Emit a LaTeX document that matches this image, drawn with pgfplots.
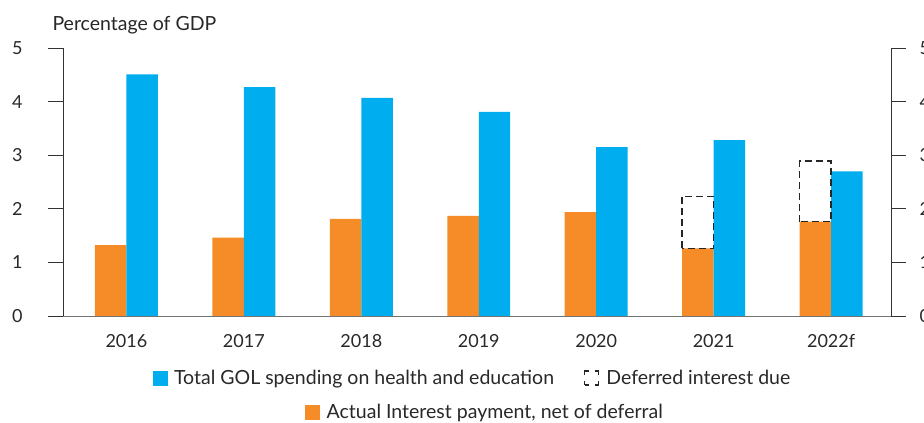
\documentclass[border=0pt]{standalone}
\usepackage{fontspec}
\setmainfont{Lato}
\usepackage{pgfplots}
\pgfplotsset{compat=1.18}
\definecolor{gblue}{RGB}{0,174,239}
\definecolor{gorange}{RGB}{245,140,40}
\definecolor{txt}{RGB}{40,40,40}
\begin{document}
\begin{tikzpicture}
\useasboundingbox (0,0) rectangle (924pt,423pt);
\pgfplotsset{
  base/.style={
    at={(63pt,107pt)}, anchor=south west,
    scale only axis, width=828pt, height=268pt,
    xmin=-0.54, xmax=6.51, ymin=0, ymax=5,
    font=\fontsize{18}{21}\selectfont,
    /pgf/number format/assume math mode=true,
    ticklabel style={text=txt},
    tick align=outside, major tick length=15pt,
    y tick style={black!80, line width=0.8pt},
    axis line style={black!80, line width=0.8pt},
    ytick={0,1,2,3,4,5},
  },
  legstyle/.style={draw=none, fill=none, text=txt, anchor=center,
    font=\fontsize{19.5}{23}\selectfont,
    /tikz/every odd column/.append style={column sep=5pt}},
}
\begin{axis}[base,
  axis x line*=bottom, axis y line*=left,
  xtick={0,1,2,3,4,5,6},
  xticklabels={2016,2017,2018,2019,2020,2021,2022f},
  x tick style={draw=none},
  x axis line style={black!55},
  xticklabel style={yshift=0pt},
  yticklabel style={xshift=-22pt},
  legend style={legstyle, at={(0.4946,-0.231)},
    legend columns=2,
    /tikz/every even column/.append style={column sep=28pt}},
  legend cell align=left,
]
\addplot[ybar, bar width=0.268, bar shift=-0.134, fill=gorange, draw=none, forget plot]
  coordinates {(0,1.32) (1,1.46) (2,1.81) (3,1.87) (4,1.94) (5,1.26) (6,1.76)};
\addplot[ybar, bar width=0.268, bar shift=0.134, fill=gblue, draw=none, forget plot]
  coordinates {(0,4.51) (1,4.27) (2,4.07) (3,3.81) (4,3.15) (5,3.28) (6,2.70)};
\addplot[black!85, line width=1.4pt, dash pattern=on 7pt off 4pt, forget plot]
  coordinates {(4.732,1.26) (4.732,2.23) (5.0,2.23) (5.0,1.26) (4.732,1.26)};
\addplot[black!85, line width=1.4pt, dash pattern=on 7pt off 4pt, forget plot]
  coordinates {(5.732,1.76) (5.732,2.89) (6.0,2.89) (6.0,1.76) (5.732,1.76)};
\addlegendimage{legend image code/.code={\fill[gblue] (0pt,-7pt) rectangle (14pt,7pt);}}
\addlegendentry{Total GOL spending on health and education}
\addlegendimage{legend image code/.code={\draw[black!85, line width=1.4pt, dash pattern=on 8pt off 6pt, dash phase=4pt] (0pt,-7pt) rectangle (14pt,7pt);}}
\addlegendentry{Deferred interest due}
\end{axis}
\begin{axis}[base,
  axis y line*=right, axis x line=none,
  yticklabel style={xshift=10pt},
]
\addplot[draw=none] coordinates {(0,0)};
\end{axis}
\begin{axis}[base, hide axis,
  legend style={legstyle, at={(0.5097,-0.358)}},
]
\addlegendimage{legend image code/.code={\fill[gorange] (0pt,-7pt) rectangle (14pt,7pt);}}
\addlegendentry{Actual Interest payment, net of deferral}
\end{axis}
\node[anchor=west, text=txt, font=\fontsize{19.5}{23}\selectfont] at (49pt,398pt) {Percentage of GDP};
\end{tikzpicture}
\end{document}
